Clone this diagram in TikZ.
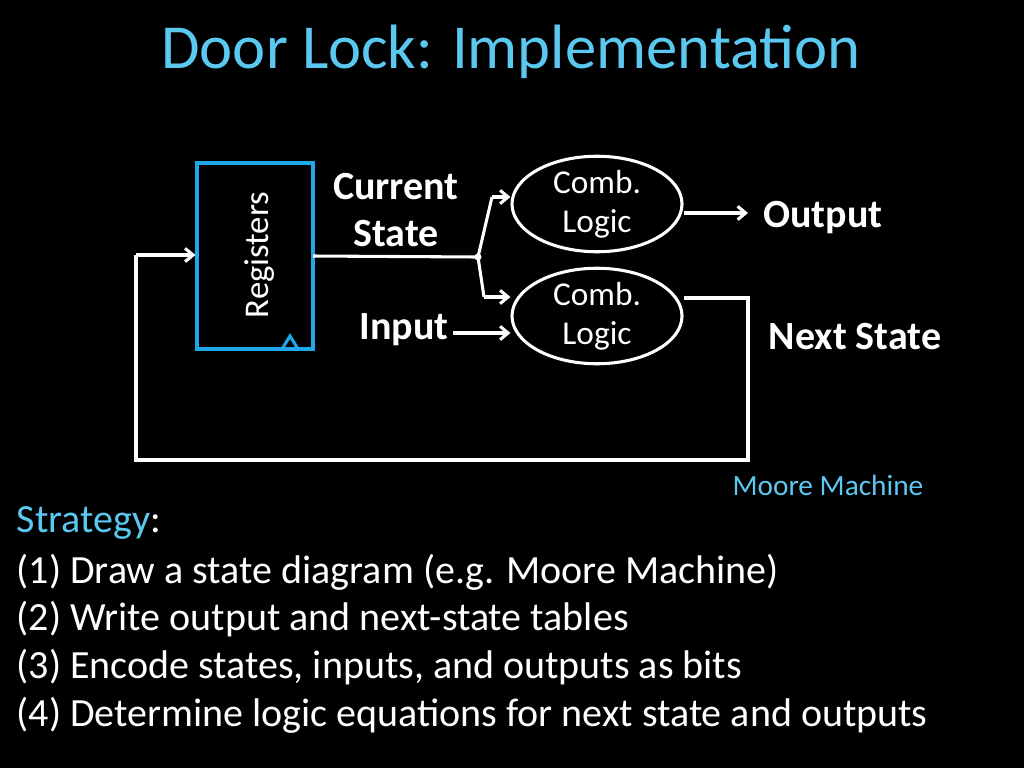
\documentclass[tikz,border=0pt]{standalone}
\usepackage{fontspec}
\setmainfont{Carlito}
\usetikzlibrary{arrows.meta,shapes.geometric}
\definecolor{tblue}{HTML}{5BC8F0}
\definecolor{rblue}{HTML}{1FA8E8}
\begin{document}
\begin{tikzpicture}[x=0.75pt,y=-0.75pt,
  wire/.style={white,line width=2.3pt},
  arr/.style={wire,-{Straight Barb[length=6pt,width=10pt]}},
  comb/.style={draw=white,line width=2.3pt,ellipse,minimum width=170pt*0.75,minimum height=86pt*0.75,inner sep=0pt,text=white,font=\fontsize{25}{29}\selectfont,align=center},
  lbl/.style={text=white,font=\bfseries\fontsize{30}{35}\selectfont,align=center}]
\fill[black] (0,0) rectangle (1024,768);
\useasboundingbox (0,0) rectangle (1024,768);
\node[text=tblue,font=\fontsize{47}{50}\selectfont] (title) at (511,52) {Door Lock: Implementation};
\node[draw=rblue,line width=2.3pt,minimum width=116pt*0.75,minimum height=186pt*0.75,inner sep=0pt] (reg) at (255,256) {};
\node[text=white,rotate=90,font=\fontsize{26}{28}\selectfont] (regt) at (260,255) {Registers};
\coordinate (ck1) at (282,349); \coordinate (ck2) at (290,336); \coordinate (ck3) at (298,349);
\draw[rblue,line width=2.3pt] (ck1) -- (ck2) -- (ck3);
\node[comb] (c1) at (597,204) {Comb.\\Logic};
\node[comb] (c2) at (597,316) {Comb.\\Logic};
\coordinate (regout) at (313,256);
\coordinate (dot) at (478,257);
\coordinate (up) at (492,197);
\coordinate (dn) at (484,297);
\fill[white] (dot) circle (3.5);
\draw[wire] (regout) -- (dot);
\draw[wire] (dot) -- (up);
\draw[wire] (dot) -- (dn);
\draw[arr] (up) -- (c1.west |- up);
\draw[arr] (dn) -- (c2.west |- dn);
\node[lbl] (cs) at (396,210) {Current\\State};
\node[lbl] (inp) at (404,330) {Input};
\draw[arr] (453,333) -- (c2.west |- 0,333);
\node[lbl] (out) at (823,218) {Output};
\draw[arr] (684,213) -- (748,213);
\node[lbl] (ns) at (855,337) {Next State};
\coordinate (a) at (684,298); \coordinate (b) at (748,298);
\coordinate (c) at (748,460); \coordinate (d) at (136,460); \coordinate (e) at (136,255);
\draw[wire] (a) -- (b) -- (c) -- (d) -- (e);
\draw[arr] (e) -- (reg.west |- e);
\node[text=tblue,font=\fontsize{22}{24}\selectfont] (mm) at (828,485) {Moore Machine};
\begin{scope}[every node/.style={anchor=west,text=white,font=\fontsize{30}{34}\selectfont}]
\node (s0) at (12,523) {\textcolor{tblue}{Strategy}:};
\node (s1) at (12,572) {(1) Draw a state diagram (e.g. Moore Machine)};
\node (s2) at (12,619) {(2) Write output and next-state tables};
\node (s3) at (12,667) {(3) Encode states, inputs, and outputs as bits};
\node (s4) at (12,715) {(4) Determine logic equations for next state and outputs};
\end{scope}
\end{tikzpicture}
\end{document}
